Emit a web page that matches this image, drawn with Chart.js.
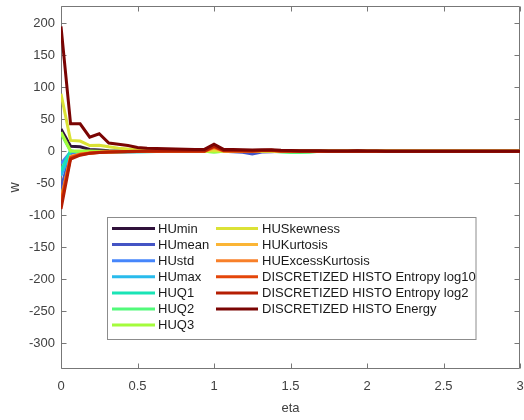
<!DOCTYPE html>
<html>
<head>
<meta charset="utf-8">
<script src="https://cdn.jsdelivr.net/npm/chart.js@4/dist/chart.umd.min.js"></script>
<style>
  html, body { margin: 0; padding: 0; background: #ffffff; }
  #wrap { width: 524px; height: 420px; }
</style>
</head>
<body>
<div id="wrap"><canvas id="c" width="524" height="420"></canvas></div>
<script>
// Regularisation path grid (eta)
const eta = [
  0, 0.0625, 0.125, 0.1875, 0.25, 0.3125, 0.375, 0.4375, 0.5, 0.5625,
  0.625, 0.6875, 0.75, 0.8125, 0.875, 0.9375, 1, 1.0625, 1.125, 1.1875,
  1.25, 1.3125, 1.375, 1.4375, 1.5, 1.5625, 1.625, 1.6875, 1.75, 1.8125,
  1.875, 1.9375, 2, 2.0625, 2.125, 2.1875, 2.25, 2.3125, 2.375, 2.4375,
  2.5, 2.5625, 2.625, 2.6875, 2.75, 2.8125, 2.875, 2.9375, 3
];

const featureNames = [
  'HUmin', 'HUmean', 'HUstd', 'HUmax', 'HUQ1', 'HUQ2', 'HUQ3',
  'HUSkewness', 'HUKurtosis', 'HUExcessKurtosis',
  'DISCRETIZED HISTO Entropy log10', 'DISCRETIZED HISTO Entropy log2',
  'DISCRETIZED HISTO Energy'
];

// Coefficient w of each feature along the eta grid
const wHUmin = [
  35, 8, 7, 3, 2, 1, 0.5, 0.3, 0.2, 0.1,
  0.1, 0, 0, 0, 0, 0, 0.5, 0, 0, 0,
  0, 0, 0, 0, 0, 0, 0, 0, 0, 0,
  0, 0, 0, 0, 0, 0, 0, 0, 0, 0,
  0, 0, 0, 0, 0, 0, 0, 0, 0
];
const wHUmean = [
  -58, -3, -1.5, -1, -0.8, -0.6, -0.5, -0.4, -0.3, -0.2,
  -0.2, -0.1, -0.1, 0, 0, 0, 0, 0, -0.5, -1.5,
  -4, -1, -0.5, 0, 0, 0, 0, 0, 0, 0,
  0, 0, 0, 0, 0, 0, 0, 0, 0, 0,
  0, 0, 0, 0, 0, 0, 0, 0, 0
];
const wHUstd = [
  -19, -1, -1.5, -1.2, -1, -0.8, -0.6, -0.5, -0.4, -0.3,
  -0.2, -0.2, -0.1, 0, 0, 0, 0, 0, 0, 0,
  0, 0, 0, 0, 0, 0, 0, 0, 0, 0,
  0, 0, 0, 0, 0, 0, 0, 0, 0, 0,
  0, 0, 0, 0, 0, 0, 0, 0, 0
];
const wHUmax = [
  -38, 0, -2, -1.5, -1.2, -1, -0.8, -0.6, -0.5, -0.4,
  -0.3, -0.2, -0.1, 0, 0, 0, 0, 0, 0, 0,
  0, 0, 0, 0, 0, 0, 0, 0, 0, 0,
  0, 0, 0, 0, 0, 0, 0, 0, 0, 0,
  0, 0, 0, 0, 0, 0, 0, 0, 0
];
const wHUQ1 = [
  -30, 1, -2, -1.5, -1.5, -1.2, -1, -0.8, -0.6, -0.5,
  -0.4, -0.3, -0.2, -0.1, 0, 0, 0, 0, 0, 0,
  0, 0, 0, 0, 0, 0, 0, 0, 0, 0,
  0, 0, 0, 0, 0, 0, 0, 0, 0, 0,
  0, 0, 0, 0, 0, 0, 0, 0, 0
];
const wHUQ2 = [
  28, 0, -0.5, -0.5, -0.5, -0.5, -0.4, -0.3, -0.2, -0.2,
  -0.1, 0, 0, 0, 0, 0, -1, 0, 0, 0,
  0, 0, 0, -1, -2, -2, -1.5, 0, 0, 0,
  0, 0, 0, 0, 0, 0, 0, 0, 0, 0,
  0, 0, 0, 0, 0, 0, 0, 0, 0
];
const wHUQ3 = [
  30, 1, 0.5, 0.5, 0.3, 0.2, 0.1, 0, 0, 0,
  0, 0, 0, 0, 0, 0, -1, 0, 0, 0,
  0, 0, 0, 0, 0, 0, 0, 0, 0, 0,
  0, 0, 0, 0, 0, 0, 0, 0, 0, 0,
  0, 0, 0, 0, 0, 0, 0, 0, 0
];
const wHUSkewness = [
  90, 17, 16, 9, 9.5, 7, 5, 3.5, 2.5, 1.8,
  1.3, 1, 0.8, 0.6, 0.5, 0.4, 1.5, 0.3, 0.2, 0.2,
  0.1, 0.1, 0, 0, 0, 0, 0, 0, 0, 0,
  0, 0, 0, 0, 0, 0, 0, 0, 0, 0,
  0, 0, 0, 0, 0, 0, 0, 0, 0
];
const wHUKurtosis = [
  -75, -8, -4, -2.5, -1.5, -1, -0.6, -0.4, -0.3, -0.2,
  -0.1, 0, 0, 0, 0, 0, 5, 0.5, 0.3, 0.2,
  0.2, 0.8, 1, 0.2, 0, 0, 0, 0, 0, 0,
  0, 0, 0, 0, 0, 0, 0, 0, 0, 0,
  0, 0, 0, 0, 0, 0, 0, 0, 0
];
const wHUExcessKurtosis = [
  -78, -9, -4.5, -2.5, -1.5, -1, -0.6, -0.4, -0.3, -0.2,
  -0.1, 0, 0, 0, 0, 0, 6, 0.5, 0.3, 0.2,
  0.2, 0.8, 1, 0.2, 0, 0, 0, 0, 0, 0,
  0, 0, 0, 0, 0, 0, 0, 0, 0, 0,
  0, 0, 0, 0, 0, 0, 0, 0, 0
];
const wEntropyLog10 = [
  -80, -10, -5, -3, -2, -1.2, -0.8, -0.5, -0.3, -0.2,
  -0.1, 0, 0, 0, 0, 0.2, 7, 1, 0.8, 0.6,
  0.5, 1.2, 1.5, 0.4, 0.2, 0.1, 0, 0, 0, 0,
  0, 0, 0, 0, 0, 0, 0, 0, 0, 0,
  0, 0, 0, 0, 0, 0, 0, 0, 0
];
const wEntropyLog2 = [
  -90, -12, -6, -3, -2, -1.2, -0.6, -0.2, 0.2, 0.4,
  0.5, 0.5, 0.5, 0.6, 0.6, 0.6, 8, 1.2, 1, 0.8,
  0.7, 1.4, 1.8, 0.6, 0.4, 0.3, 0.3, 0.3, 0.2, 0.2,
  0.2, 0.6, 0.2, 0.1, 0.1, 0.1, 0.1, 0, 0, 0,
  0, 0, 0, 0, 0, 0, 0, 0, 0
];
const wEnergy = [
  195, 43, 43, 22, 27.5, 13, 11, 9, 6, 5,
  4.5, 4, 3.5, 3.2, 3, 3, 11, 3, 2.8, 2.5,
  2.2, 2.4, 2.6, 1.5, 1.2, 1, 0.9, 0.8, 0.7, 0.6,
  0.5, 1, 0.5, 0.4, 0.3, 0.3, 0.2, 0.2, 0.2, 0.1,
  0.1, 0.1, 0.1, 0.1, 0, 0, 0, 0, 0
];

const seriesValues = [
  wHUmin, wHUmean, wHUstd, wHUmax, wHUQ1, wHUQ2, wHUQ3,
  wHUSkewness, wHUKurtosis, wHUExcessKurtosis,
  wEntropyLog10, wEntropyLog2, wEnergy
];

const xTicks = [0, 0.5, 1, 1.5, 2, 2.5, 3];
const yTicks = [-300, -250, -200, -150, -100, -50, 0, 50, 100, 150, 200];

// turbo colormap, 13 samples
const lineColors = [
  '#30123b', '#4454c4', '#4686fb', '#29bbec', '#1ae4b6', '#52fa7a', '#a4fc3c',
  '#dbe236', '#fbb535', '#f8802a', '#e4460a', '#b51e03', '#7a0403'
];

const FONT = "'Liberation Sans', Arial, sans-serif";
const AXIS_COLOR = '#777777';
const TEXT_COLOR = '#404040';

// Box around the axes with inward ticks on all four sides
const framePlugin = {
  id: 'frame',
  beforeDatasetsDraw(chart) {
    const { ctx, chartArea: a, scales: { x, y } } = chart;
    const L = Math.round(a.left) + 0.5, R = Math.round(a.right) - 0.5;
    const T = Math.round(a.top) + 0.5, B = Math.round(a.bottom) - 0.5;
    const tick = 5;
    ctx.save();
    ctx.strokeStyle = AXIS_COLOR;
    ctx.lineWidth = 1;
    ctx.beginPath();
    ctx.rect(L, T, R - L, B - T);
    xTicks.forEach(v => {
      const px = Math.round(x.getPixelForValue(v)) + 0.5;
      ctx.moveTo(px, B); ctx.lineTo(px, B - tick);
      ctx.moveTo(px, T); ctx.lineTo(px, T + tick);
    });
    yTicks.forEach(v => {
      const py = Math.round(y.getPixelForValue(v)) + 0.5;
      ctx.moveTo(L, py); ctx.lineTo(L + tick, py);
      ctx.moveTo(R, py); ctx.lineTo(R - tick, py);
    });
    ctx.stroke();
    ctx.restore();
  }
};

// Two-column legend, filled column by column
const legendPlugin = {
  id: 'colLegend',
  afterDraw(chart) {
    const { ctx } = chart;
    const perCol = 7;
    const box = { left: 107.5, top: 217.5, width: 368.5, height: 122 };
    const rowH = 16.1, firstRow = 228.5;
    const cols = [
      { lineX0: 112, lineX1: 155, textX: 158 },
      { lineX0: 216, lineX1: 258, textX: 262 }
    ];
    ctx.save();
    ctx.fillStyle = '#ffffff';
    ctx.fillRect(box.left, box.top, box.width, box.height);
    ctx.strokeStyle = '#8c8c8c';
    ctx.lineWidth = 1;
    ctx.strokeRect(box.left, box.top, box.width, box.height);
    ctx.font = '13px ' + FONT;
    ctx.textBaseline = 'middle';
    ctx.textAlign = 'left';
    chart.data.datasets.forEach((ds, i) => {
      const c = cols[Math.floor(i / perCol)];
      const yy = firstRow + (i % perCol) * rowH;
      ctx.strokeStyle = ds.borderColor;
      ctx.lineWidth = 3;
      ctx.beginPath();
      ctx.moveTo(c.lineX0, yy);
      ctx.lineTo(c.lineX1, yy);
      ctx.stroke();
      ctx.fillStyle = '#1a1a1a';
      ctx.fillText(ds.label, c.textX, yy + 0.5);
    });
    ctx.restore();
  }
};

// keep the plot box at fixed edges regardless of tick-label overhang
const noLabelPadding = s => {
  s.paddingLeft = 0; s.paddingRight = 0; s.paddingTop = 0; s.paddingBottom = 0;
};

const datasets = featureNames.map((name, i) => ({
  label: name,
  data: eta.map((e, j) => ({ x: e, y: seriesValues[i][j] })),
  borderColor: lineColors[i],
  backgroundColor: lineColors[i],
  borderWidth: 3,
  pointRadius: 0,
  tension: 0,
  fill: false,
  order: featureNames.length - i
}));

new Chart(document.getElementById('c'), {
  type: 'line',
  data: { datasets },
  options: {
    responsive: false,
    animation: false,
    devicePixelRatio: 1,
    layout: { padding: { top: 6, right: 4, left: 0, bottom: 0 } },
    plugins: {
      legend: { display: false },
      tooltip: { enabled: false }
    },
    scales: {
      x: {
        type: 'linear',
        min: 0,
        max: 3,
        afterBuildTicks: s => { s.ticks = xTicks.map(v => ({ value: v })); },
        afterFit: s => { s.height = 51; noLabelPadding(s); },
        grid: { display: false, drawTicks: false },
        border: { display: false },
        ticks: {
          font: { family: FONT, size: 13 },
          color: TEXT_COLOR,
          padding: 10,
          maxRotation: 0,
          autoSkip: false,
          callback: v => String(v)
        },
        title: {
          display: true,
          text: 'eta',
          font: { family: FONT, size: 13 },
          color: TEXT_COLOR,
          padding: { top: 0, bottom: 4 }
        }
      },
      y: {
        type: 'linear',
        min: -340,
        max: 227,
        afterBuildTicks: s => { s.ticks = yTicks.map(v => ({ value: v })); },
        afterFit: s => { s.width = 61; noLabelPadding(s); },
        grid: { display: false, drawTicks: false },
        border: { display: false },
        ticks: {
          font: { family: FONT, size: 13 },
          color: TEXT_COLOR,
          padding: 6,
          autoSkip: false,
          callback: v => String(v)
        },
        title: {
          display: true,
          text: 'w',
          font: { family: FONT, size: 14 },
          color: TEXT_COLOR,
          padding: { top: 7, bottom: 0 }
        }
      }
    }
  },
  plugins: [framePlugin, legendPlugin]
});
</script>
</body>
</html>
